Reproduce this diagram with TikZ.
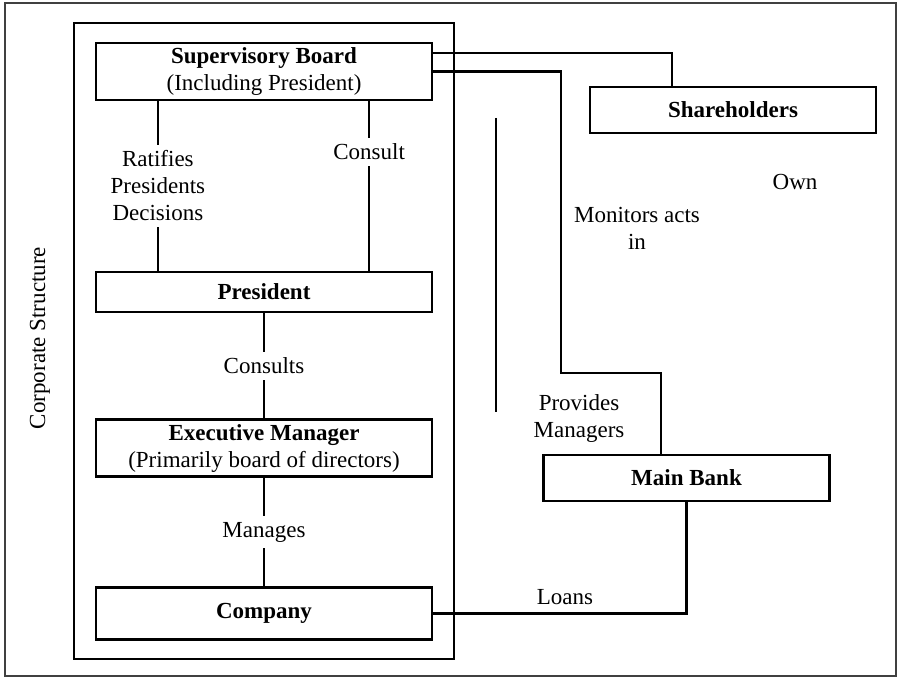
\documentclass[tikz,border=0pt]{standalone}
\usepackage{fontspec}
\setmainfont{Liberation Serif}
\begin{document}
\begin{tikzpicture}[x=0.5pt,y=-0.5pt,
  line width=1.1pt,
  every node/.style={font=\fontsize{11.5pt}{13.5pt}\selectfont},
  unit/.style={draw, rectangle, minimum width=168pt, align=center, inner sep=0pt},
  ext/.style={draw, rectangle, minimum width=143pt, minimum height=23pt, inner sep=0pt, font=\fontsize{11.5pt}{13.5pt}\selectfont\bfseries},
  gap/.style={fill=white, inner sep=3pt, align=center},
  tag/.style={align=center, inner sep=0pt}]
\useasboundingbox (0,0) rectangle (897,679);

% page frame and the corporate structure frame
\draw[black!75, line width=0.9pt] (5,3) rectangle (896,676);
\node[draw, rectangle, minimum width=190pt, minimum height=318pt, inner sep=0pt] (corp) at (264,341) {};
\node[rotate=90] (corplabel) at (40,338) {Corporate Structure};

% units inside the corporation
\node[unit, minimum height=28.5pt] (sup) at (264,71.5)
  {\textbf{Supervisory Board}\\(Including President)};
\node[unit, minimum height=20pt] (pres) at (264,292) {\textbf{President}};
\node[unit, minimum height=28.5pt] (exec) at (264,448)
  {\textbf{Executive Manager}\\(Primarily board of directors)};
\node[unit, minimum height=26pt] (comp) at (264,613.5) {\textbf{Company}};

% outside parties
\node[ext] (share) at (733,110) {Shareholders};
\node[ext] (bank) at (686.5,478) {Main Bank};

% internal relations
\draw ([xshift=31.5pt]sup.south west) -- node[gap] {Ratifies\\Presidents\\Decisions} ([xshift=31.5pt]pres.north west);
\draw ([xshift=-32pt]sup.south east) -- node[gap, pos=0.3] {Consult} ([xshift=-32pt]pres.north east);
\draw (pres.south) -- node[gap] {Consults} (exec.north);
\draw (exec.south) -- node[gap] {Manages} (comp.north);

% external relations
\coordinate (ownturn) at (672,53);
\draw ([yshift=9.25pt]sup.east) -- (ownturn) -- (share.north -| ownturn);
\coordinate (mon1) at (561,71.5);
\coordinate (mon2) at (561,373);
\coordinate (mon3) at (661,373);
\draw (sup.east) -- (mon1) -- (mon2) -- (mon3) -- (bank.north -| mon3);
\draw (bank.south) -- (bank.south |- comp.east) -- (comp.east);
\coordinate (bar1) at (496,118);
\coordinate (bar2) at (496,412);
\draw (bar1) -- (bar2);

% labels
\node[tag] (own) at (795,182) {Own};
\node[tag] (monitors) at (637,228.5) {Monitors acts\\in};
\node[tag] (provides) at (579,418.5) {Provides\\Managers};
\node[tag] (loans) at (565,597) {Loans};
\end{tikzpicture}
\end{document}
